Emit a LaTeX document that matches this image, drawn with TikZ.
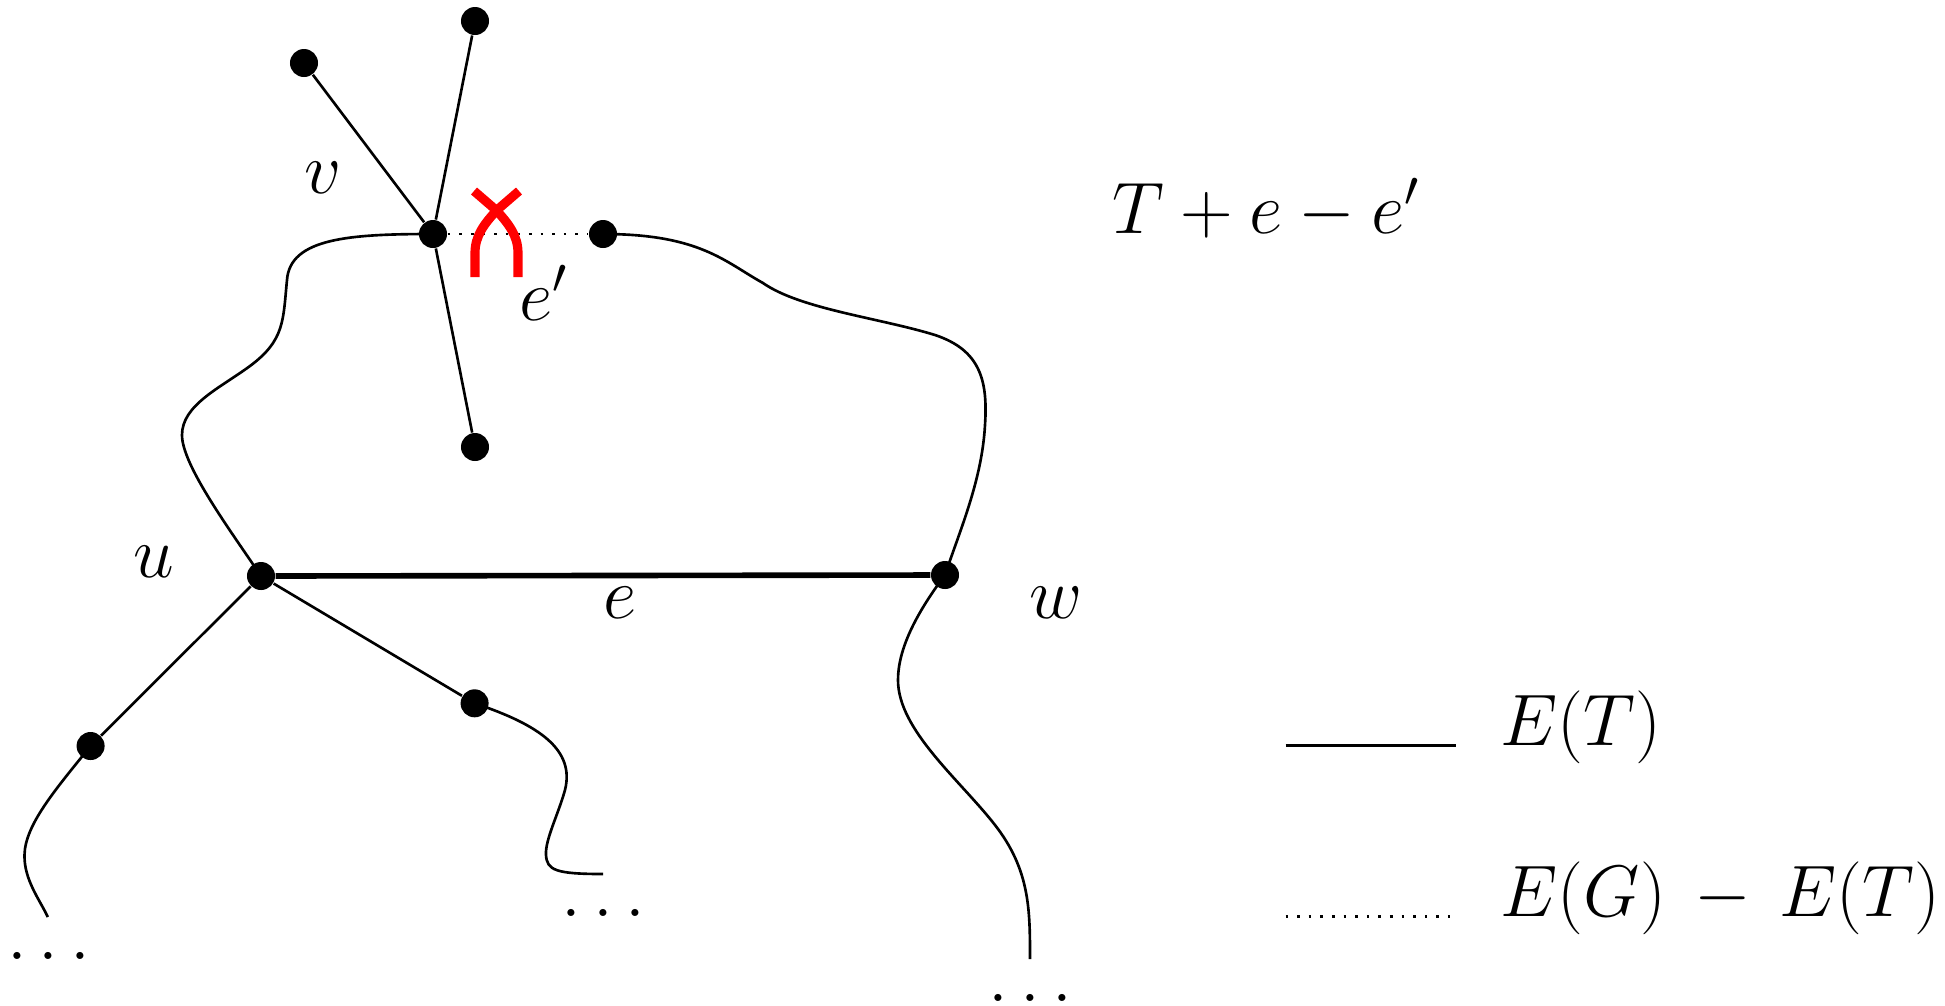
\documentclass[tikz,border=0pt]{standalone}
\begin{document}
\begin{tikzpicture}[x=0.01cm,y=-0.01cm,
  vtx/.style={circle,fill=black,inner sep=0pt,minimum size=0.28cm},
  lbl/.style={inner sep=0pt,anchor=base,font=\huge},
  lblw/.style={inner sep=0pt,anchor=base west,font=\huge},
  tedge/.style={line width=0.75pt},
  thedge/.style={line width=1.6pt},
  dedge/.style={line width=0.75pt,dash pattern=on 0.75pt off 2.55pt},
  cut/.style={red,line width=2.6pt}]
\path[use as bounding box] (0,0) rectangle (1945,1005);

% vertices
\node[vtx] (v) at (433,234) {};
\node[vtx] (a) at (304,63) {};
\node[vtx] (b) at (475,21) {};
\node[vtx] (c) at (475,447) {};
\node[vtx] (x) at (603,234) {};
\node[vtx] (u) at (261,576) {};
\node[vtx] (w) at (945,575) {};
\node[vtx] (p) at (90.6,746) {};
\node[vtx] (q) at (474.6,703.3) {};

% free ends
\coordinate (pe) at (47.8,917);
\coordinate (qe) at (603,874);
\coordinate (we) at (1030,959);

% straight edges
\draw[tedge] (v) -- (a);
\draw[tedge] (v) -- (b);
\draw[tedge] (v) -- (c);
\draw[tedge] (u) -- (p);
\draw[tedge] (u) -- (q);
\draw[thedge] (u) -- (w);
\draw[dedge] (v) -- (x);

% curved edges
\draw[tedge] (v.center) .. controls (350,234) and (290,238) .. (287,280)
  .. controls (283,320) and (285,340) .. (250,366)
  .. controls (220,388) and (182,405) .. (182,435)
  .. controls (182,465) and (230,530) .. (u.center);
\draw[tedge] (x.center) .. controls (700,234) and (725,262) .. (763,283)
  .. controls (800,309) and (880,318) .. (935,335)
  .. controls (980,350) and (988,380) .. (985,425)
  .. controls (982,480) and (960,530) .. (w.center);
\draw[tedge] (p.center) .. controls (55,790) and (25,825) .. (24.5,855)
  .. controls (24,880) and (40,900) .. (pe);
\draw[tedge] (q.center) .. controls (540,725) and (575,750) .. (565,790)
  .. controls (558,815) and (545,840) .. (546,855)
  .. controls (547,870) and (555,874) .. (qe);
\draw[tedge] (w.center) .. controls (915,615) and (898,650) .. (898,680)
  .. controls (898,730) and (960,780) .. (995,825)
  .. controls (1030,870) and (1030,910) .. (we);

% cut mark
\draw[cut] (475,277) -- (475,253) .. controls (475,236) and (484,224) .. (497,210) -- (519,191);
\draw[cut] (518,277) -- (518,253) .. controls (518,236) and (509,224) .. (496,210) -- (474,191);

% labels
\node[lbl] (lv) at (322.7,193) {$v$};
\node[lbl] (lu) at (154,577) {$u$};
\node[lbl] (lw) at (1056,618) {$w$};
\node[lbl] (le) at (620.5,618) {$e$};
\node[lbl] (lep) at (544,320) {$e'$};
\node[lblw] (title) at (1112,233) {$T+e-e'$};

% dots
\node[lbl] (d1) at (49,959) {$\ldots$};
\node[lbl] (d2) at (603.6,916.5) {$\ldots$};
\node[lbl] (d3) at (1030.5,1001.5) {$\ldots$};

% legend
\coordinate (l1a) at (1285.5,745.7);
\coordinate (l1b) at (1456,745.7);
\coordinate (l2a) at (1285.5,916.7);
\coordinate (l2b) at (1450,916.7);
\draw[tedge] (l1a) -- (l1b);
\draw[dedge] (l2a) -- (l2b);
\node[lblw] (leg1) at (1500,745.5) {$E(T)$};
\node[lblw] (leg2) at (1500,916.7) {$E(G)\,-\,E(T)$};
\end{tikzpicture}
\end{document}
